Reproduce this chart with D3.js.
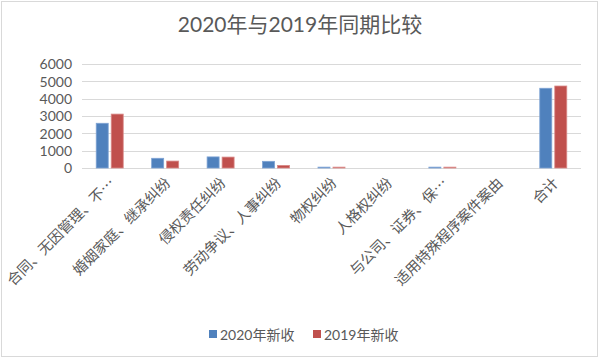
<!DOCTYPE html>
<html><head><meta charset="utf-8">
<script src="https://cdn.jsdelivr.net/npm/d3@7"></script>
<style>body{margin:0;background:#fff}svg{display:block}</style>
</head><body>
<svg id="c" width="600" height="359"></svg>
<script>
const categories = ["合同、无因管理、不…","婚姻家庭、继承纠纷","侵权责任纠纷","劳动争议、人事纠纷","物权纠纷","人格权纠纷","与公司、证券、保…","适用特殊程序案件案由","合计"];
const seriesNames = ["2020年新收","2019年新收"];
const values2020 = [2580, 560, 640, 385, 50, 0, 50, 0, 4600];
const values2019 = [3110, 400, 630, 150, 50, 0, 50, 0, 4730];
const yTicks = [0,1000,2000,3000,4000,5000,6000];
const colors = ["#4F81BD","#C0504D"];
const strokes = ["#7EA3D4","#D98A88"];

const svg = d3.select("#c");
svg.append("rect").attr("x",1.5).attr("y",1.5).attr("width",596).attr("height",355)
  .attr("fill","#fff").attr("stroke","#d9d9d9");

const x = d3.scaleBand().domain(categories).range([82,581]);
const y = d3.scaleLinear().domain([0,6000]).range([168,64]);

svg.append("text").attr("x",300).attr("y",32).attr("text-anchor","middle")
  .attr("font-family","Lato, 'Noto Sans CJK SC', sans-serif").attr("font-size",21)
  .attr("fill","#595959").text("2020年与2019年同期比较");

// grid
svg.append("g").selectAll("line").data(yTicks).join("line")
  .attr("x1",82).attr("x2",581).attr("y1",d=>Math.round(y(d))+0.5).attr("y2",d=>Math.round(y(d))+0.5)
  .attr("stroke","#d9d9d9").attr("stroke-width",1);

const yAxis = svg.append("g").attr("transform","translate(72,0)")
  .call(d3.axisLeft(y).tickValues(yTicks).tickSize(0).tickPadding(0).tickFormat(d3.format("d")));
yAxis.select(".domain").remove();
yAxis.selectAll("text").attr("font-family","Lato, sans-serif").attr("font-size",14).attr("fill","#595959").attr("dy","0.35em");

const series = [values2020, values2019];
const bw = 12, gap = 3;
series.forEach((vals,si)=>{
  svg.append("g").selectAll("rect").data(categories.filter((d,i)=>vals[i]>0)).join("rect")
    .attr("x",d=>x(d)+x.bandwidth()/2 - bw - gap/2 + si*(bw+gap))
    .attr("width",bw)
    .attr("y",d=>y(vals[categories.indexOf(d)]))
    .attr("height",d=>y(0)-y(vals[categories.indexOf(d)]))
    .attr("fill",colors[si]).attr("stroke",strokes[si]).attr("stroke-width",0.8);
});

// x labels
svg.append("g").selectAll("text").data(categories).join("text")
  .attr("transform",d=>`translate(${x(d)+x.bandwidth()/2+6},184) rotate(-45)`)
  .attr("text-anchor","end")
  .attr("font-family","'Noto Sans CJK SC', sans-serif").attr("font-size",14.5)
  .attr("fill","#595959").text(d=>d);

// legend
const lg = svg.append("g");
const lx = [209, 313];
seriesNames.forEach((n,i)=>{
  lg.append("rect").attr("x",lx[i]).attr("y",330).attr("width",8).attr("height",8).attr("fill",colors[i]);
  lg.append("text").attr("x",lx[i]+11).attr("y",339.5)
    .attr("font-family","Lato, 'Noto Sans CJK SC', sans-serif").attr("font-size",14)
    .attr("fill","#595959").text(n);
});
</script>
</body></html>
